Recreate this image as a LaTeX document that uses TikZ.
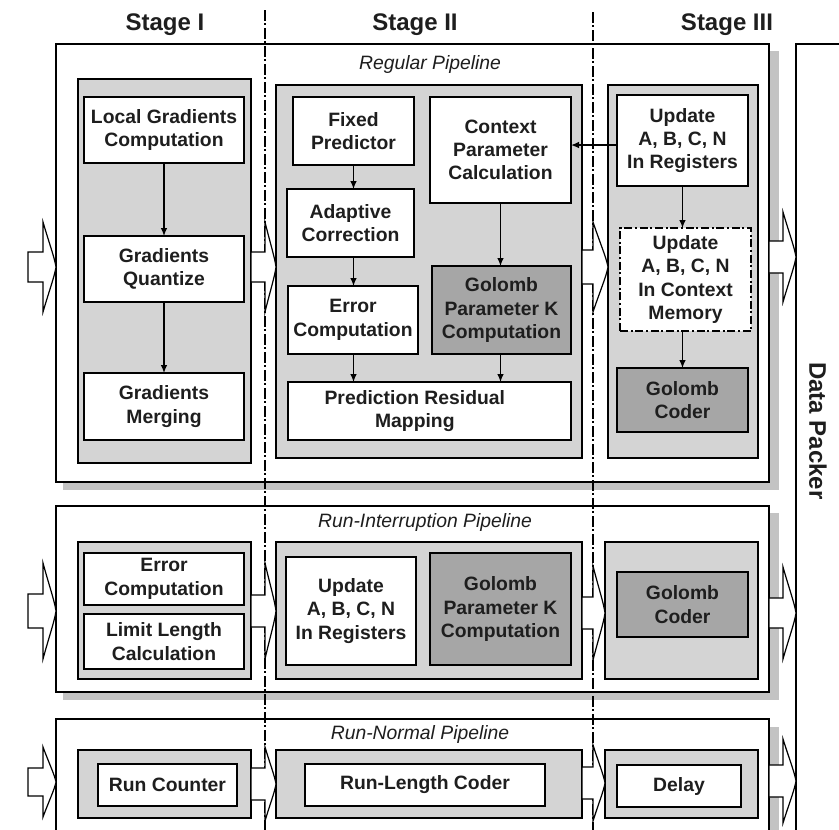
\documentclass[tikz,border=0pt]{standalone}
\usepackage{fontspec}
\setmainfont{Liberation Sans}
\usetikzlibrary{arrows.meta}
\definecolor{lgray}{RGB}{212,212,212}
\definecolor{dgray}{RGB}{166,166,166}
\definecolor{sgray}{RGB}{195,195,195}
\definecolor{txt}{RGB}{30,30,30}
\newcommand{\bx}[7]{\node[#6,minimum width={(#4-#2)*0.75pt},minimum height={(#5-#3)*0.75pt}] (#1) at ({(#2+#4)/2},{(#3+#5)/2}) {#7};}
% x0, xb, x1, yc, stem half, head half
\newcommand{\blk}[6]{\draw[blkarrow] ({#1},{#4-#5}) -- ({#2},{#4-#5}) -- ({#2},{#4-#6}) .. controls ({#2+0.45*(#3-#2)},{#4-0.55*#6}) and ({#3-0.1*(#3-#2)},{#4-0.2*#6}) .. ({#3},{#4}) .. controls ({#3-0.1*(#3-#2)},{#4+0.2*#6}) and ({#2+0.45*(#3-#2)},{#4+0.55*#6}) .. ({#2},{#4+#6}) -- ({#2},{#4+#5}) -- ({#1},{#4+#5}) -- cycle;}
\begin{document}
\begin{tikzpicture}[x=0.75pt,y=-0.75pt,
 box/.style={draw=black,line width=1.1pt,fill=white,inner sep=0pt,outer sep=0pt,align=center,text=txt,font=\fontsize{14.5}{17.5}\selectfont\bfseries},
 dbox/.style={box,fill=dgray},
 dashbox/.style={box,dash pattern=on 6pt off 2pt on 1.5pt off 2pt},
 stagebox/.style={draw=black,line width=1.1pt,fill=lgray,inner sep=0pt,outer sep=0pt},
 pipebox/.style={draw=black,line width=1.1pt,fill=white,inner sep=0pt,outer sep=0pt},
 shadowbox/.style={fill=sgray,draw=none,inner sep=0pt,outer sep=0pt},
 arr/.style={-{Latex[length=6pt,width=5pt]},line width=1pt},
 blkarrow/.style={draw=black,line width=0.9pt,fill=white,line join=miter},
 sep/.style={line width=0.9pt,dash pattern=on 8pt off 2pt on 1.5pt off 2pt},
 stagelbl/.style={font=\fontsize{18}{20}\selectfont\bfseries,text=txt},
 pipelbl/.style={font=\fontsize{14.5}{16}\selectfont\itshape,text=txt}
]
\useasboundingbox (0,0) rectangle (839,829);
\clip (0,0) rectangle (839,829);
\fill[white] (0,0) rectangle (839,829);

% stage labels
\node[stagelbl] (s1) at (165,25) {Stage I};
\node[stagelbl] (s2) at (415,25) {Stage II};
\node[stagelbl] (s3) at (727,25) {Stage III};

% data packer
\bx{dp}{796}{44}{880}{900}{pipebox}{}
\node[stagelbl,rotate=-90] (dpl) at (818,431) {Data Packer};

% ===== Regular pipeline =====
\bx{shR}{63}{51}{779}{490}{shadowbox}{}
\bx{pR}{56}{44}{769}{482}{pipebox}{}
\node[pipelbl] (lR) at (430,64) {Regular Pipeline};
\bx{r1}{78}{79}{251}{463}{stagebox}{}
\bx{r2}{276}{85}{582}{458}{stagebox}{}
\bx{r3}{608}{85}{758}{458}{stagebox}{}

\bx{lgc}{84}{97}{244}{163}{box}{Local Gradients\\Computation}
\bx{gq}{84}{236}{244}{302}{box}{Gradients\\Quantize}
\bx{gm}{84}{373}{244}{440}{box}{Gradients\\Merging}

\bx{fp}{293}{97}{414}{165}{box}{Fixed\\Predictor}
\bx{ac}{287}{189}{414}{257}{box}{Adaptive\\Correction}
\bx{ec}{288}{286}{418}{354}{box}{Error\\Computation}
\bx{cpc}{430}{97}{571}{203}{box}{Context\\Parameter\\Calculation}
\bx{gpk}{432}{266}{571}{354}{dbox}{Golomb\\Parameter K\\Computation}
\bx{prm}{288}{382}{571}{440}{box}{Prediction Residual\hspace*{22pt}\\Mapping\hspace*{22pt}}

\bx{ur}{617}{95}{748}{186}{box}{Update\\A, B, C, N\\In Registers}
\bx{ucm}{620}{228}{751}{331}{dashbox}{Update\\A, B, C, N\\In Context\\Memory}
\bx{gc}{617}{368}{748}{432}{dbox}{Golomb\\Coder}

\draw[arr] (lgc) -- (gq);
\draw[arr] (gq) -- (gm);
\draw[arr] (fp.south) -- (fp.south |- ac.north);
\draw[arr] (ac.south -| fp.south) -- (ec.north -| fp.south);
\draw[arr] (ec.south -| fp.south) -- (prm.north -| fp.south);
\draw[arr] (cpc.south) -- (cpc.south |- gpk.north);
\draw[arr] (gpk.south -| cpc.south) -- (prm.north -| cpc.south);
\draw[arr] (ur.south) -- (ur.south |- ucm.north);
\draw[arr] (ucm.south -| ur.south) -- (gc.north -| ur.south);
\draw[arr] ([yshift=-3.4pt]ur.west) coordinate (urw) -- (urw -| cpc.east);

% ===== Run-interruption pipeline =====
\bx{shI}{63}{513}{779}{700}{shadowbox}{}
\bx{pI}{56}{506}{769}{692}{pipebox}{}
\node[pipelbl] (lI) at (425,522) {Run-Interruption Pipeline};
\bx{i1}{78}{542}{251}{679}{stagebox}{}
\bx{i2}{276}{542}{582}{679}{stagebox}{}
\bx{i3}{605}{542}{758}{679}{stagebox}{}
\bx{ec2}{84}{553}{244}{605}{box}{Error\\Computation}
\bx{llc}{84}{614}{244}{669}{box}{Limit Length\\Calculation}
\bx{ur2}{286}{557}{416}{665}{box}{Update\\A, B, C, N\\In Registers}
\bx{gpk2}{430}{553}{571}{665}{dbox}{Golomb\\Parameter K\\Computation}
\bx{gc2}{617}{572}{748}{637}{dbox}{Golomb\\Coder}

% ===== Run-normal pipeline =====
\bx{shN}{63}{727}{779}{910}{shadowbox}{}
\bx{pN}{56}{719}{769}{900}{pipebox}{}
\node[pipelbl] (lN) at (420,734) {Run-Normal Pipeline};
\bx{n1}{78}{750}{251}{818}{stagebox}{}
\bx{n2}{276}{750}{582}{818}{stagebox}{}
\bx{n3}{605}{750}{758}{818}{stagebox}{}
\bx{rc}{98}{764}{237}{806}{box}{Run Counter}
\bx{rlc}{305}{764}{545}{806}{box}{Run-Length Coder}
\bx{dl}{617}{765}{741}{807}{box}{Delay}

% stage separators
\draw[sep] (265,10) -- (265,840);
\draw[sep] (593,12) -- (593,840);

% block arrows
\blk{28}{43}{56}{267}{15}{45}
\blk{251}{265}{276}{267}{15}{45}
\blk{582}{593}{608}{267}{17}{45}
\blk{769}{783}{796}{257}{16}{45}

\blk{28}{43}{56}{611}{17}{48}
\blk{251}{265}{276}{611}{16}{48}
\blk{582}{593}{605}{613}{16}{47}
\blk{769}{783}{796}{613}{15}{46}

\blk{28}{43}{56}{782}{14}{35}
\blk{251}{265}{276}{784}{16}{37}
\blk{582}{593}{605}{783}{16}{38}
\blk{769}{783}{796}{781}{16}{42}
\end{tikzpicture}
\end{document}
